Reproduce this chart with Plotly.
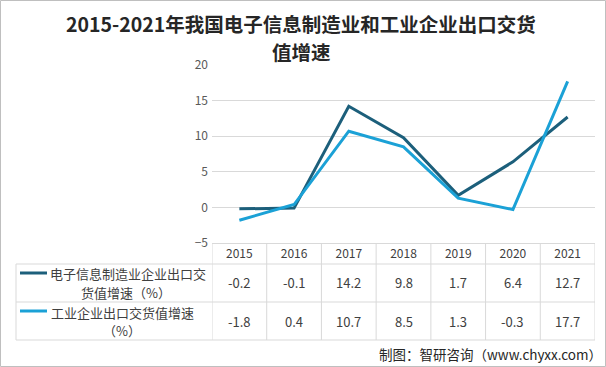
import plotly.graph_objects as go

years = ["2015", "2016", "2017", "2018", "2019", "2020", "2021"]
electronics = [-0.2, -0.1, 14.2, 9.8, 1.7, 6.4, 12.7]
industry = [-1.8, 0.4, 10.7, 8.5, 1.3, -0.3, 17.7]
series_lines = [["电子信息制造业企业出口交", "货值增速（%）"], ["工业企业出口交货值增速", "（%）"]]
title_lines = ["2015-2021年我国电子信息制造业和工业企业出口交货", "值增速"]
y_ticks = [-5, 0, 5, 10, 15, 20]
footer = "制图：智研咨询（www.chyxx.com）"

C_DARK = "#1c5f7b"
C_LIGHT = "#1ba1d6"
GRID = "#d9d9d9"
FONT = "Noto Sans CJK SC"

W, H = 606, 367
L, R, T, B = 212, 595, 65, 243  # plot area in pixels
PW, PH = R - L, B - T

def px(x):
    return (x - L) / PW

def py(y):
    return (B - y) / PH

fig = go.Figure()
fig.add_trace(go.Scatter(x=years, y=electronics, mode="lines",
                         line=dict(color=C_DARK, width=3), name="a"))
fig.add_trace(go.Scatter(x=years, y=industry, mode="lines",
                         line=dict(color=C_LIGHT, width=3), name="b"))

shapes = []
ann = []
# outer border
shapes.append(dict(type="rect", xref="paper", yref="paper",
                   x0=px(0.5), x1=px(W - 0.5), y0=py(H - 0.5), y1=py(0.5),
                   line=dict(color="#bfbfbf", width=1), layer="below"))
# table horizontal lines
for yy in [264, 302, 340]:
    shapes.append(dict(type="line", xref="paper", yref="paper",
                       x0=px(16), x1=1, y0=py(yy), y1=py(yy),
                       line=dict(color=GRID, width=1)))
# left border of legend column
shapes.append(dict(type="line", xref="paper", yref="paper",
                   x0=px(16), x1=px(16), y0=py(264), y1=py(340),
                   line=dict(color=GRID, width=1)))
# column separators
for k in range(len(years) + 1):
    shapes.append(dict(type="line", xref="x", yref="paper",
                       x0=k - 0.5, x1=k - 0.5, y0=0, y1=py(340),
                       line=dict(color=GRID, width=1)))
# legend keys
for yy, c in [(273, C_DARK), (311, C_LIGHT)]:
    shapes.append(dict(type="line", xref="paper", yref="paper",
                       x0=px(20), x1=px(47), y0=py(yy), y1=py(yy),
                       line=dict(color=c, width=3)))

# legend text
for (txt, xx, yy) in [(series_lines[0][0], 128, 273), (series_lines[0][1], 126, 292),
                      (series_lines[1][0], 122, 312), (series_lines[1][1], 122, 330)]:
    ann.append(dict(xref="paper", yref="paper", x=px(xx), y=py(yy),
                    text=txt, showarrow=False, xanchor="center", yanchor="middle",
                    font=dict(family=FONT, size=13, color="#404040")))
# values (category axis annotations use the category index)
for i, yr in enumerate(years):
    ann.append(dict(xref="x", yref="paper", x=i, y=py(282), text=str(electronics[i]),
                    showarrow=False, xanchor="center", yanchor="middle",
                    font=dict(family=FONT, size=13, color="#404040")))
    ann.append(dict(xref="x", yref="paper", x=i, y=py(321), text=str(industry[i]),
                    showarrow=False, xanchor="center", yanchor="middle",
                    font=dict(family=FONT, size=13, color="#404040")))
# title
ann.append(dict(xref="paper", yref="paper", x=px(301), y=py(23), text="<b>" + title_lines[0] + "</b>",
                showarrow=False, xanchor="center", yanchor="middle",
                font=dict(family=FONT, size=19.5, color="#262626")))
ann.append(dict(xref="paper", yref="paper", x=px(301), y=py(51), text="<b>" + title_lines[1] + "</b>",
                showarrow=False, xanchor="center", yanchor="middle",
                font=dict(family=FONT, size=19.5, color="#262626")))
# footer
ann.append(dict(xref="paper", yref="paper", x=px(604), y=py(354), text=footer,
                showarrow=False, xanchor="right", yanchor="middle",
                font=dict(family=FONT, size=13.5, color="#262626")))

fig.update_layout(
    width=W, height=H,
    margin=dict(l=L, r=W - R, t=T, b=H - B, pad=0),
    paper_bgcolor="white", plot_bgcolor="white",
    showlegend=False,
    shapes=shapes, annotations=ann,
    font=dict(family=FONT, color="#595959"),
    xaxis=dict(type="category", range=[-0.5, 6.5], showgrid=False, zeroline=False,
               showline=True, linecolor=GRID, linewidth=1, ticks="",
               tickfont=dict(size=12, color="#404040"), ticklabelstandoff=0, fixedrange=True),
    yaxis=dict(range=[-5, 20], tickvals=y_ticks, showgrid=True, gridcolor=GRID, gridwidth=1,
               zeroline=False, showline=False, ticks="", ticklabelstandoff=3,
               tickfont=dict(size=12, color="#595959"), fixedrange=True),
)
fig.write_html("out.html", config={"displayModeBar": False},
               post_script="document.body.style.margin='0';")
